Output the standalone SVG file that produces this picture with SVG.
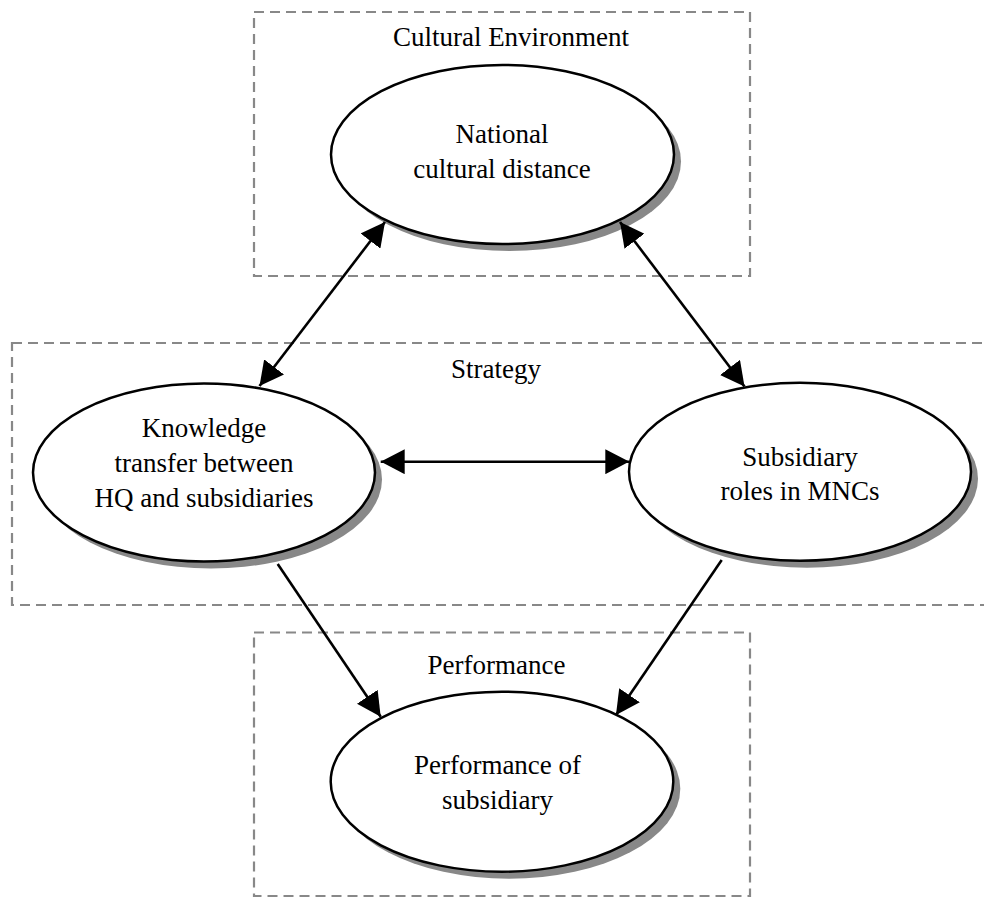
<svg xmlns="http://www.w3.org/2000/svg" width="984" height="897" viewBox="0 0 984 897">
<style>
.frame{fill:none;stroke:#888;stroke-width:2.2;stroke-dasharray:10,6}
.shadow{fill:#888}
.node{fill:#fff;stroke:#000;stroke-width:2.5}
.lbl{font-family:"Liberation Serif","Times New Roman",serif;font-size:27px;fill:#000;text-anchor:middle}
.edge{fill:none;stroke:#000;stroke-width:2.6}
</style>
<defs>
<marker id="ah" viewBox="0 0 24 25" refX="24" refY="12.5" markerWidth="24" markerHeight="25" markerUnits="userSpaceOnUse" orient="auto-start-reverse">
<path d="M0,0 L24,12.5 L0,25 z" fill="#000"/>
</marker>
</defs>
<rect width="984" height="897" fill="#fff"/>
<g id="frames">
<rect class="frame" x="254" y="12" width="496" height="264"/>
<rect class="frame" x="12" y="343" width="990" height="262"/>
<rect class="frame" x="254" y="632.5" width="496" height="263.5"/>
<text class="lbl" x="511" y="46">Cultural Environment</text>
<text class="lbl" x="496" y="377.7">Strategy</text>
<text class="lbl" x="496.5" y="674.3">Performance</text>
</g>
<g id="node-culture">
<ellipse class="shadow" cx="509.5" cy="161.5" rx="171.5" ry="89.5"/>
<ellipse class="node" cx="502.5" cy="154.5" rx="171.5" ry="89.5"/>
<text class="lbl" x="502" y="143">National</text>
<text class="lbl" x="502" y="177.5">cultural distance</text>
</g>
<g id="node-knowledge">
<ellipse class="shadow" cx="211" cy="479.5" rx="171" ry="89"/>
<ellipse class="node" cx="204" cy="472.5" rx="171" ry="89"/>
<text class="lbl" x="204" y="436.7">Knowledge</text>
<text class="lbl" x="204" y="471.7">transfer between</text>
<text class="lbl" x="204" y="506.7">HQ and subsidiaries</text>
</g>
<g id="node-roles">
<ellipse class="shadow" cx="807" cy="478.7" rx="171" ry="89"/>
<ellipse class="node" cx="800" cy="471.7" rx="171" ry="89"/>
<text class="lbl" x="800" y="465.7">Subsidiary</text>
<text class="lbl" x="800" y="500">roles in MNCs</text>
</g>
<g id="node-performance">
<ellipse class="shadow" cx="509" cy="788.7" rx="171.3" ry="90"/>
<ellipse class="node" cx="502" cy="781.7" rx="171.3" ry="90"/>
<text class="lbl" x="497.5" y="774">Performance of</text>
<text class="lbl" x="497.5" y="809.3">subsidiary</text>
</g>
<g id="connectors">
<path class="edge" d="M385,222 L259.5,386" marker-start="url(#ah)" marker-end="url(#ah)"/>
<path class="edge" d="M620,222 L744.5,386.5" marker-start="url(#ah)" marker-end="url(#ah)"/>
<path class="edge" d="M380.7,461.7 L629.3,461.7" marker-start="url(#ah)" marker-end="url(#ah)"/>
<path class="edge" d="M277.7,564 L380.7,716.7" marker-end="url(#ah)"/>
<path class="edge" d="M721.7,560 L616,715" marker-end="url(#ah)"/>
</g>
</svg>
